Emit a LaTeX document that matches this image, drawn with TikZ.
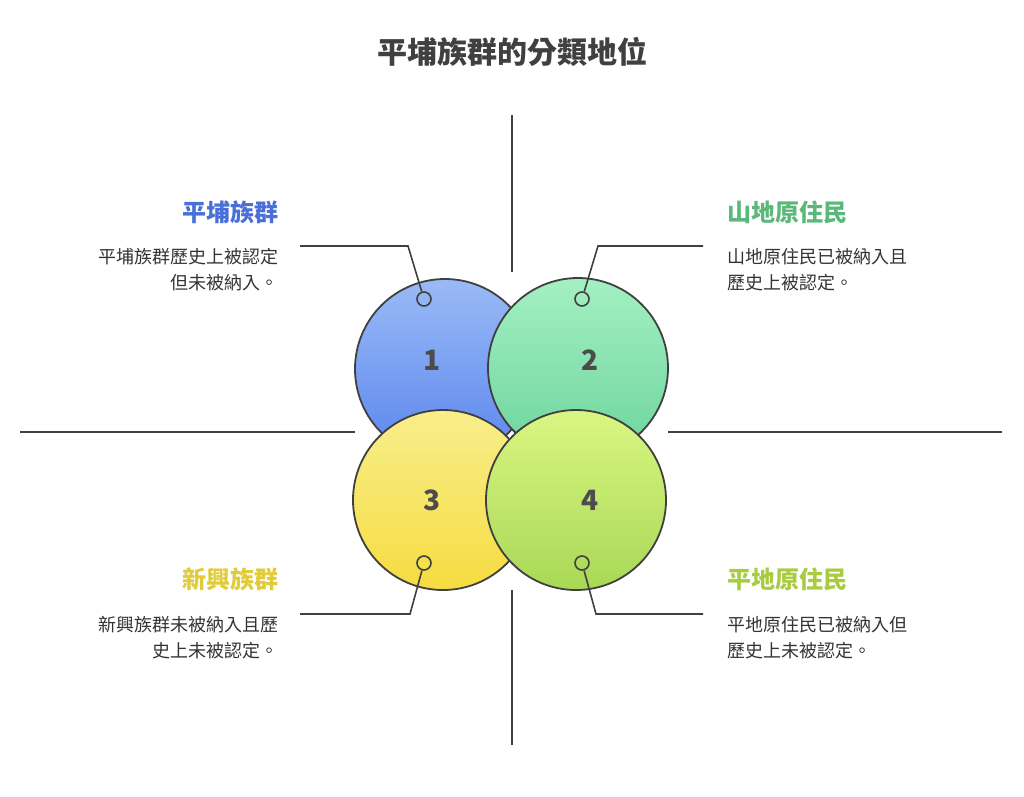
\documentclass[tikz,border=0pt]{standalone}
\usepackage{fontspec}
\setmainfont{Noto Sans CJK TC}
\begin{document}
\begin{tikzpicture}[x=1pt,y=-1pt,
  circ/.style={draw=black!75,line width=1.8pt},
  lead/.style={draw=black!75,line width=1.6pt},
  axis/.style={draw=black!75,line width=1.6pt},
  dot/.style={circle,draw=black!75,line width=1.6pt,inner sep=0pt,minimum size=14pt},
  num/.style={font=\fontsize{28}{32}\selectfont\bfseries,text=black!70},
  head/.style={font=\fontsize{24}{28}\selectfont\bfseries},
  body/.style={font=\fontsize{18}{26}\selectfont,text=black!80}]
\useasboundingbox (0,0) rectangle (1024,796);
\definecolor{cb}{HTML}{4A6FD8}\definecolor{cg}{HTML}{5CB87A}
\definecolor{cy}{HTML}{E0CC3A}\definecolor{cl}{HTML}{A8CC40}
\definecolor{b1}{HTML}{9ABAF6}\definecolor{b2}{HTML}{5A86EE}
\definecolor{g1}{HTML}{A4F0C2}\definecolor{g2}{HTML}{6CD49C}
\definecolor{y1}{HTML}{F8EE8C}\definecolor{y2}{HTML}{F6DC40}
\definecolor{l1}{HTML}{DAF682}\definecolor{l2}{HTML}{A8D856}
\node[font=\fontsize{30}{34}\selectfont\bfseries,text=black!75] (title) at (512,52) {平埔族群的分類地位};
\coordinate (v1) at (512,115);\coordinate (v2) at (512,272);
\coordinate (v3) at (512,590);\coordinate (v4) at (512,745);
\coordinate (h1) at (20,432);\coordinate (h2) at (355,432);
\coordinate (h3) at (668,432);\coordinate (h4) at (1002,432);
\draw[axis] (v1)--(v2); \draw[axis] (v3)--(v4);
\draw[axis] (h1)--(h2); \draw[axis] (h3)--(h4);
% circles
\shade[top color=b1,bottom color=b2] (445,369) circle (90);
\draw[circ] (445,369) circle (90);
\shade[top color=g1,bottom color=g2] (578,368) circle (90);
\draw[circ] (578,368) circle (90);
\shade[top color=y1,bottom color=y2] (443,500) circle (90);
\draw[circ] (443,500) circle (90);
\shade[top color=l1,bottom color=l2] (576,500) circle (90);
\draw[circ] (576,500) circle (90);
\node[num] (n1) at (432,360) {1};
\node[num] (n2) at (590,360) {2};
\node[num] (n3) at (432,500) {3};
\node[num] (n4) at (590,500) {4};
% dots and leaders
\node[dot] (d1) at (424,299) {};
\node[dot] (d2) at (582,299) {};
\node[dot] (d3) at (424,563) {};
\node[dot] (d4) at (582,563) {};
\coordinate (a1) at (300,246);\coordinate (k1) at (408,246);
\coordinate (a2) at (703,246);\coordinate (k2) at (598,246);
\coordinate (a3) at (300,614);\coordinate (k3) at (410,614);
\coordinate (a4) at (703,614);\coordinate (k4) at (596,614);
\draw[lead] (a1)--(k1)--(d1); \draw[lead] (a2)--(k2)--(d2);
\draw[lead] (a3)--(k3)--(d3); \draw[lead] (a4)--(k4)--(d4);
% texts
\node[head,text=cb,anchor=east] (t1) at (282,212) {平埔族群};
\node[body,anchor=north east,align=right] (b1t) at (282,245) {平埔族群歷史上被認定\\但未被納入。};
\node[head,text=cg,anchor=west] (t2) at (724,212) {山地原住民};
\node[body,anchor=north west,align=left] (b2t) at (724,245) {山地原住民已被納入且\\歷史上被認定。};
\node[head,text=cy,anchor=east] (t3) at (282,579) {新興族群};
\node[body,anchor=north east,align=right] (b3t) at (282,613) {新興族群未被納入且歷\\史上未被認定。};
\node[head,text=cl,anchor=west] (t4) at (724,579) {平地原住民};
\node[body,anchor=north west,align=left] (b4t) at (724,613) {平地原住民已被納入但\\歷史上未被認定。};
\end{tikzpicture}
\end{document}
